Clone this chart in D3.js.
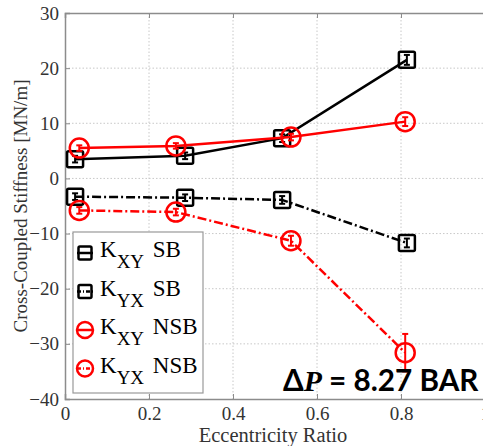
<!DOCTYPE html>
<html>
<head>
<meta charset="utf-8">
<script src="https://cdn.jsdelivr.net/npm/d3@7"></script>
<style>
  html, body { margin: 0; padding: 0; background: #fff; }
  svg { display: block; }
</style>
</head>
<body>
<svg id="chart" width="483" height="446"></svg>
<script>
// Eccentricity ratios for each series
const xSB  = [0.024, 0.286, 0.517, 0.814];
const xNSB = [0.034, 0.264, 0.538, 0.810];

// Cross-coupled stiffness values [MN/m]
const kxySB  = [3.5, 4.1, 7.3, 21.5];
const kyxSB  = [-3.3, -3.5, -3.9, -11.7];
const kxyNSB = [5.5, 5.9, 7.5, 10.3];
const kyxNSB = [-5.8, -6.1, -11.3, -31.6];

// Uncertainty (half-width of error bars)
const errKxySB  = [0.6, 0.6, 0.7, 0.9];
const errKyxSB  = [0.6, 0.6, 0.7, 0.8];
const errKxyNSB = [0.5, 0.5, 0.6, 0.8];
const errKyxNSB = [0.6, 0.6, 0.9, 3.4];

const xTicks = [0, 0.2, 0.4, 0.6, 0.8, 1];
const yTicks = [30, 20, 10, 0, -10, -20, -30, -40];

const series = [
  { name: "SB",  sub: "XY", x: xSB,  y: kxySB,  err: errKxySB,  color: "#000", marker: "square", dash: null },
  { name: "SB",  sub: "YX", x: xSB,  y: kyxSB,  err: errKyxSB,  color: "#000", marker: "square", dash: "9,3,2,3" },
  { name: "NSB", sub: "XY", x: xNSB, y: kxyNSB, err: errKxyNSB, color: "#ff0000", marker: "circle", dash: null },
  { name: "NSB", sub: "YX", x: xNSB, y: kyxNSB, err: errKyxNSB, color: "#ff0000", marker: "circle", dash: "9,3,2,3" }
];

const svg = d3.select("#chart");
const m = { left: 65, top: 13, right: 485, bottom: 399 };

const x = d3.scaleLinear().domain([0, 1]).range([m.left, m.right]);
const y = d3.scaleLinear().domain([-40, 30]).range([m.bottom, m.top]);

const serif = "'Liberation Serif', 'DejaVu Serif', serif";

// Grid
const grid = svg.append("g");
grid.selectAll(".gx").data(xTicks.slice(1, -1)).join("line")
  .attr("x1", d => x(d)).attr("x2", d => x(d))
  .attr("y1", m.top).attr("y2", m.bottom)
  .attr("stroke", "#c8c8c8").attr("stroke-width", 1).attr("stroke-dasharray", "1.5,2");
grid.selectAll(".gy").data(yTicks.slice(1, -1)).join("line")
  .attr("x1", m.left).attr("x2", m.right)
  .attr("y1", d => y(d)).attr("y2", d => y(d))
  .attr("stroke", "#c8c8c8").attr("stroke-width", 1).attr("stroke-dasharray", "1.5,2");

// Axes (ticks point inward)
const axisColor = "#8c8c8c";
const xAxis = svg.append("g").attr("transform", `translate(0,${m.bottom})`)
  .call(d3.axisBottom(x).tickValues(xTicks).tickSize(-5).tickPadding(8).tickFormat(d3.format("~g")));
const xAxisTop = svg.append("g").attr("transform", `translate(0,${m.top})`)
  .call(d3.axisTop(x).tickValues(xTicks).tickSize(-5).tickFormat(""));
const yAxis = svg.append("g").attr("transform", `translate(${m.left},0)`)
  .call(d3.axisLeft(y).tickValues(yTicks).tickSize(-5).tickPadding(6).tickFormat(d3.format("d")));
[xAxis, xAxisTop, yAxis].forEach(g => {
  g.attr("font-family", serif).attr("font-size", 19);
  g.selectAll("path").attr("stroke", axisColor).attr("stroke-width", 1.5);
  g.selectAll("line").attr("stroke", axisColor);
  g.selectAll("text").attr("fill", "#333");
});

// Axis titles
svg.append("text")
  .attr("x", 273).attr("y", 442)
  .attr("text-anchor", "middle")
  .attr("font-family", serif).attr("font-size", 20.5).attr("fill", "#333")
  .text("Eccentricity Ratio");
svg.append("text")
  .attr("transform", `translate(27,${(m.top + m.bottom) / 2}) rotate(-90)`)
  .attr("text-anchor", "middle")
  .attr("font-family", serif).attr("font-size", 19).attr("fill", "#333")
  .text("Cross-Coupled Stiffness [MN/m]");

// Data
const line = d3.line().x(d => x(d[0])).y(d => y(d[1]));
const lw = 2.5;

function drawMarker(g, s, cx, cy, size) {
  if (s.marker === "square") {
    g.append("rect")
      .attr("x", cx - size / 2).attr("y", cy - size / 2)
      .attr("width", size).attr("height", size).attr("rx", 1.5)
      .attr("fill", "none").attr("stroke", s.color).attr("stroke-width", 2.5);
  } else {
    g.append("circle")
      .attr("cx", cx).attr("cy", cy).attr("r", size / 2 + 1.5)
      .attr("fill", "none").attr("stroke", s.color).attr("stroke-width", 2.5);
  }
}

series.forEach(s => {
  const pts = s.x.map((v, i) => [v, s.y[i]]);
  const g = svg.append("g");
  g.append("path").datum(pts)
    .attr("d", line).attr("fill", "none")
    .attr("stroke", s.color).attr("stroke-width", lw)
    .attr("stroke-dasharray", s.dash);
  // error bars
  pts.forEach((p, i) => {
    const cx = x(p[0]);
    const y0 = y(p[1] - s.err[i]), y1 = y(p[1] + s.err[i]);
    g.append("line").attr("x1", cx).attr("x2", cx).attr("y1", y0).attr("y2", y1)
      .attr("stroke", s.color).attr("stroke-width", 2);
    [y0, y1].forEach(yy => g.append("line")
      .attr("x1", cx - 3).attr("x2", cx + 3).attr("y1", yy).attr("y2", yy)
      .attr("stroke", s.color).attr("stroke-width", 2));
    drawMarker(g, s, cx, y(p[1]), 16);
  });
});

// Legend
const lg = svg.append("g");
lg.append("rect").attr("x", 73).attr("y", 232).attr("width", 130).attr("height", 161)
  .attr("fill", "#fff").attr("stroke", "#999").attr("stroke-width", 1.2);
series.forEach((s, i) => {
  const cy = 253 + i * 38.5;
  const row = lg.append("g");
  row.append("line").attr("x1", 77).attr("x2", 93).attr("y1", cy).attr("y2", cy)
    .attr("stroke", s.color).attr("stroke-width", 2.5)
    .attr("stroke-dasharray", s.dash ? "4,2,1,2" : null);
  drawMarker(row, s, 85, cy, 13);
  const t = row.append("text").attr("x", 100).attr("y", cy + 4)
    .attr("font-family", serif).attr("font-size", 23).attr("fill", "#000");
  t.append("tspan").text("K");
  t.append("tspan").attr("dy", 11).attr("font-size", 19).text(s.sub);
  t.append("tspan").attr("dy", -11).attr("dx", 3).text(" " + s.name);
});

// Pressure drop annotation
const ann = svg.append("text").attr("x", 283).attr("y", 391)
  .attr("font-family", "Lato, 'Open Sans', sans-serif").attr("font-weight", "bold")
  .attr("font-size", 29.7).attr("fill", "#000");
ann.append("tspan").text("Δ");
ann.append("tspan").attr("font-style", "italic").attr("font-family", "'Liberation Serif', serif").text("P");
ann.append("tspan").text(" = 8.27 BAR");
</script>
</body>
</html>
